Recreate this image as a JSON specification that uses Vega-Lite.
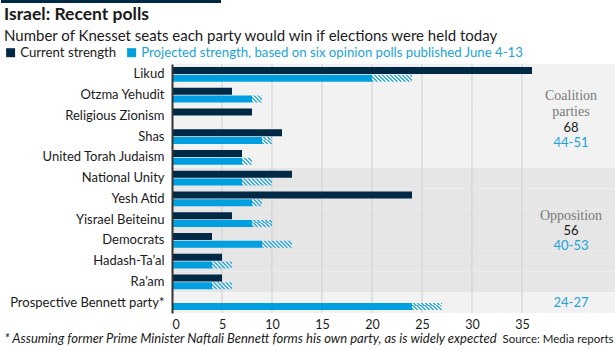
{
  "$schema": "https://vega.github.io/schema/vega-lite/v6.json",
  "padding": {"left": 0, "top": 0, "right": 0, "bottom": 0},
  "spacing": 3,
  "resolve": {"legend": {"color": "independent"}},
  "datasets": {
    "parties": [
      {"party": "Likud", "group": "Coalition", "current": 36, "proj_min": 20, "proj_max": 24},
      {"party": "Otzma Yehudit", "group": "Coalition", "current": 6, "proj_min": 8, "proj_max": 9},
      {"party": "Religious Zionism", "group": "Coalition", "current": 8, "proj_min": null, "proj_max": null},
      {"party": "Shas", "group": "Coalition", "current": 11, "proj_min": 9, "proj_max": 10},
      {"party": "United Torah Judaism", "group": "Coalition", "current": 7, "proj_min": 7, "proj_max": 8},
      {"party": "National Unity", "group": "Opposition", "current": 12, "proj_min": 7, "proj_max": 10},
      {"party": "Yesh Atid", "group": "Opposition", "current": 24, "proj_min": 8, "proj_max": 9},
      {"party": "Yisrael Beiteinu", "group": "Opposition", "current": 6, "proj_min": 8, "proj_max": 10},
      {"party": "Democrats", "group": "Opposition", "current": 4, "proj_min": 9, "proj_max": 12},
      {"party": "Hadash-Ta’al", "group": "Opposition", "current": 5, "proj_min": 4, "proj_max": 6},
      {"party": "Ra’am", "group": "Opposition", "current": 5, "proj_min": 4, "proj_max": 6},
      {"party": "Prospective Bennett party*", "group": "New", "current": null, "proj_min": 24, "proj_max": 27}
    ],
    "grid": [{"v": 5}, {"v": 10}, {"v": 15}, {"v": 20}, {"v": 25}, {"v": 30}, {"v": 35}],
    "notes": [
      {"party": "Otzma Yehudit", "t": "Coalition", "kind": "g1"},
      {"party": "Religious Zionism", "t": "parties", "kind": "g2"},
      {"party": "Yisrael Beiteinu", "t": "Opposition", "kind": "g2"},
      {"party": "Shas", "t": "68", "kind": "d"},
      {"party": "Democrats", "t": "56", "kind": "d"},
      {"party": "Shas", "t": "44-51", "kind": "b1"},
      {"party": "Democrats", "t": "40-53", "kind": "b1"},
      {"party": "Prospective Bennett party*", "t": "24-27", "kind": "b2"}
    ],
    "header": [{"a": 0}]
  },
  "vconcat": [
    {
      "width": 444,
      "height": 3,
      "data": {"name": "header"},
      "mark": {"type": "rect", "color": "#002945"},
      "encoding": {
        "x": {"datum": -17.1, "type": "quantitative", "axis": null, "scale": {"domain": [0, 44.4], "nice": false, "zero": false}},
        "x2": {"datum": 4.9}
      }
    },
    {
      "width": 444,
      "height": 249,
      "title": {
        "text": "Israel: Recent polls",
        "subtitle": "Number of Knesset seats each party would win if elections were held today",
        "anchor": "start",
        "frame": "group",
        "dx": -168,
        "font": "Lato",
        "fontSize": 17.5,
        "fontWeight": "bold",
        "color": "#1a1a1a",
        "subtitleFont": "Lato",
        "subtitleFontSize": 15,
        "subtitleColor": "#1a1a1a",
        "subtitlePadding": 5,
        "offset": 2.5
      },
      "layer": [
        {
          "data": {"name": "parties"},
          "mark": {"type": "rect"},
          "encoding": {
            "y": {
              "field": "party", "type": "nominal",
              "scale": {"domain": ["Likud", "Otzma Yehudit", "Religious Zionism", "Shas", "United Torah Judaism", "National Unity", "Yesh Atid", "Yisrael Beiteinu", "Democrats", "Hadash-Ta’al", "Ra’am", "Prospective Bennett party*"], "paddingInner": 0, "paddingOuter": 0},
              "axis": {
                "title": "* Assuming former Prime Minister Naftali Bennett forms his own party, as is widely expected",
                "titleAngle": 0, "titleAlign": "left", "titleBaseline": "alphabetic",
                "titleX": -168, "titleY": 278.5,
                "titleFont": "Lato", "titleFontStyle": "italic", "titleFontWeight": "normal", "titleFontSize": 13, "titleColor": "#1a1a1a",
                "labelFont": "Lato", "labelFontSize": 13, "labelColor": "#1a1a1a", "labelPadding": 8, "labelLimit": 220,
                "ticks": false, "grid": false, "domainColor": "#333333", "domainWidth": 2
              }
            },
            "x": {
              "datum": 0, "type": "quantitative",
              "scale": {"domain": [0, 44.4], "nice": false, "zero": true},
              "axis": {
                "values": [0, 5, 10, 15, 20, 25, 30, 35],
                "title": "Source: Media reports",
                "titleAlign": "right", "titleAnchor": "end", "titleBaseline": "alphabetic",
                "titleX": 441, "titleY": 29.5,
                "titleFont": "Lato", "titleFontWeight": "normal", "titleFontSize": 11.5, "titleColor": "#1a1a1a",
                "labelFont": "Lato", "labelFontSize": 12.5, "labelColor": "#1a1a1a", "labelPadding": 5,
                "ticks": false, "domain": false, "grid": false
              }
            },
            "x2": {"datum": 44.4},
            "fill": {"condition": {"test": "datum.group === 'Opposition'", "value": "#e6e6e6"}, "value": "#f2f2f2"}
          }
        },
        {
          "data": {"name": "grid"},
          "mark": {"type": "rule", "color": "#cfcfcf", "strokeWidth": 1},
          "encoding": {"x": {"field": "v", "type": "quantitative"}}
        },
        {
          "data": {"name": "parties"},
          "transform": [{"filter": "datum.current > 0"}],
          "mark": {"type": "bar"},
          "encoding": {
            "y": {"field": "party", "type": "nominal"},
            "yOffset": {"datum": "cur", "type": "nominal", "scale": {"domain": ["cur", "proj"], "paddingInner": 0.1, "paddingOuter": 0.39}},
            "x": {"field": "current", "type": "quantitative"},
            "color": {
              "datum": "Current strength", "type": "nominal",
              "scale": {"domain": ["Current strength", "Projected strength, based on six opinion polls published June 4-13"], "range": ["#002945", "#009fdf"]},
              "legend": {
                "orient": "none", "legendX": -168, "legendY": -18, "direction": "horizontal", "title": null,
                "symbolType": "square", "symbolSize": 81, "symbolStrokeWidth": 0, "symbolOpacity": 1,
                "labelFont": "Lato", "labelFontSize": 13.2, "labelOffset": 3, "columnPadding": 8, "labelLimit": 500,
                "encode": {"labels": {"update": {"fill": {"signal": "datum.label === 'Current strength' ? '#1a1a1a' : '#1ba3dd'"}}}}
              }
            }
          }
        },
        {
          "data": {"name": "parties"},
          "transform": [{"filter": "datum.proj_min > 0"}],
          "mark": {"type": "bar"},
          "encoding": {
            "y": {"field": "party", "type": "nominal"},
            "yOffset": {"datum": "proj", "type": "nominal"},
            "x": {"field": "proj_min", "type": "quantitative"},
            "color": {"datum": "Projected strength, based on six opinion polls published June 4-13", "type": "nominal"}
          }
        },
        {
          "data": {"name": "parties"},
          "transform": [{"filter": "datum.proj_min > 0 && datum.proj_max - datum.proj_min === 1"}],
          "mark": {"type": "bar", "stroke": null, "fill": {"gradient": "linear", "x1": 0, "y1": 1, "x2": 1.1409, "y2": 0.2013, "stops": [
            {"offset": 0, "color": "#38b0e4"}, {"offset": 0.1176, "color": "#38b0e4"}, {"offset": 0.1176, "color": "rgba(56,176,228,0)"}, {"offset": 0.2353, "color": "rgba(56,176,228,0)"},
            {"offset": 0.2353, "color": "#38b0e4"}, {"offset": 0.3529, "color": "#38b0e4"}, {"offset": 0.3529, "color": "rgba(56,176,228,0)"}, {"offset": 0.4706, "color": "rgba(56,176,228,0)"},
            {"offset": 0.4706, "color": "#38b0e4"}, {"offset": 0.5882, "color": "#38b0e4"}, {"offset": 0.5882, "color": "rgba(56,176,228,0)"}, {"offset": 0.7059, "color": "rgba(56,176,228,0)"},
            {"offset": 0.7059, "color": "#38b0e4"}, {"offset": 0.8235, "color": "#38b0e4"}, {"offset": 0.8235, "color": "rgba(56,176,228,0)"}, {"offset": 0.9412, "color": "rgba(56,176,228,0)"},
            {"offset": 0.9412, "color": "#38b0e4"}, {"offset": 1, "color": "#38b0e4"}
          ]}},
          "encoding": {
            "y": {"field": "party", "type": "nominal"},
            "yOffset": {"datum": "proj", "type": "nominal"},
            "x": {"field": "proj_min", "type": "quantitative"},
            "x2": {"field": "proj_max"}
          }
        },
        {
          "data": {"name": "parties"},
          "transform": [{"filter": "datum.proj_min > 0 && datum.proj_max - datum.proj_min === 2"}],
          "mark": {"type": "bar", "stroke": null, "fill": {"gradient": "linear", "x1": 0, "y1": 1, "x2": 1.2027, "y2": 0.5791, "stops": [
            {"offset": 0, "color": "#38b0e4"}, {"offset": 0.0741, "color": "#38b0e4"}, {"offset": 0.0741, "color": "rgba(56,176,228,0)"}, {"offset": 0.1481, "color": "rgba(56,176,228,0)"},
            {"offset": 0.1481, "color": "#38b0e4"}, {"offset": 0.2222, "color": "#38b0e4"}, {"offset": 0.2222, "color": "rgba(56,176,228,0)"}, {"offset": 0.2963, "color": "rgba(56,176,228,0)"},
            {"offset": 0.2963, "color": "#38b0e4"}, {"offset": 0.3704, "color": "#38b0e4"}, {"offset": 0.3704, "color": "rgba(56,176,228,0)"}, {"offset": 0.4444, "color": "rgba(56,176,228,0)"},
            {"offset": 0.4444, "color": "#38b0e4"}, {"offset": 0.5185, "color": "#38b0e4"}, {"offset": 0.5185, "color": "rgba(56,176,228,0)"}, {"offset": 0.5926, "color": "rgba(56,176,228,0)"},
            {"offset": 0.5926, "color": "#38b0e4"}, {"offset": 0.6667, "color": "#38b0e4"}, {"offset": 0.6667, "color": "rgba(56,176,228,0)"}, {"offset": 0.7407, "color": "rgba(56,176,228,0)"},
            {"offset": 0.7407, "color": "#38b0e4"}, {"offset": 0.8148, "color": "#38b0e4"}, {"offset": 0.8148, "color": "rgba(56,176,228,0)"}, {"offset": 0.8889, "color": "rgba(56,176,228,0)"},
            {"offset": 0.8889, "color": "#38b0e4"}, {"offset": 0.963, "color": "#38b0e4"}, {"offset": 0.963, "color": "rgba(56,176,228,0)"}, {"offset": 1, "color": "rgba(56,176,228,0)"}
          ]}},
          "encoding": {
            "y": {"field": "party", "type": "nominal"},
            "yOffset": {"datum": "proj", "type": "nominal"},
            "x": {"field": "proj_min", "type": "quantitative"},
            "x2": {"field": "proj_max"}
          }
        },
        {
          "data": {"name": "parties"},
          "transform": [{"filter": "datum.proj_min > 0 && datum.proj_max - datum.proj_min === 3"}],
          "mark": {"type": "bar", "stroke": null, "fill": {"gradient": "linear", "x1": 0, "y1": 1, "x2": 1.1697, "y2": 0.7271, "stops": [
            {"offset": 0, "color": "#38b0e4"}, {"offset": 0.0541, "color": "#38b0e4"}, {"offset": 0.0541, "color": "rgba(56,176,228,0)"}, {"offset": 0.1081, "color": "rgba(56,176,228,0)"},
            {"offset": 0.1081, "color": "#38b0e4"}, {"offset": 0.1622, "color": "#38b0e4"}, {"offset": 0.1622, "color": "rgba(56,176,228,0)"}, {"offset": 0.2162, "color": "rgba(56,176,228,0)"},
            {"offset": 0.2162, "color": "#38b0e4"}, {"offset": 0.2703, "color": "#38b0e4"}, {"offset": 0.2703, "color": "rgba(56,176,228,0)"}, {"offset": 0.3243, "color": "rgba(56,176,228,0)"},
            {"offset": 0.3243, "color": "#38b0e4"}, {"offset": 0.3784, "color": "#38b0e4"}, {"offset": 0.3784, "color": "rgba(56,176,228,0)"}, {"offset": 0.4324, "color": "rgba(56,176,228,0)"},
            {"offset": 0.4324, "color": "#38b0e4"}, {"offset": 0.4865, "color": "#38b0e4"}, {"offset": 0.4865, "color": "rgba(56,176,228,0)"}, {"offset": 0.5405, "color": "rgba(56,176,228,0)"},
            {"offset": 0.5405, "color": "#38b0e4"}, {"offset": 0.5946, "color": "#38b0e4"}, {"offset": 0.5946, "color": "rgba(56,176,228,0)"}, {"offset": 0.6486, "color": "rgba(56,176,228,0)"},
            {"offset": 0.6486, "color": "#38b0e4"}, {"offset": 0.7027, "color": "#38b0e4"}, {"offset": 0.7027, "color": "rgba(56,176,228,0)"}, {"offset": 0.7568, "color": "rgba(56,176,228,0)"},
            {"offset": 0.7568, "color": "#38b0e4"}, {"offset": 0.8108, "color": "#38b0e4"}, {"offset": 0.8108, "color": "rgba(56,176,228,0)"}, {"offset": 0.8649, "color": "rgba(56,176,228,0)"},
            {"offset": 0.8649, "color": "#38b0e4"}, {"offset": 0.9189, "color": "#38b0e4"}, {"offset": 0.9189, "color": "rgba(56,176,228,0)"}, {"offset": 0.973, "color": "rgba(56,176,228,0)"},
            {"offset": 0.973, "color": "#38b0e4"}, {"offset": 1, "color": "#38b0e4"}
          ]}},
          "encoding": {
            "y": {"field": "party", "type": "nominal"},
            "yOffset": {"datum": "proj", "type": "nominal"},
            "x": {"field": "proj_min", "type": "quantitative"},
            "x2": {"field": "proj_max"}
          }
        },
        {
          "data": {"name": "parties"},
          "transform": [{"filter": "datum.proj_min > 0 && datum.proj_max - datum.proj_min === 4"}],
          "mark": {"type": "bar", "stroke": null, "fill": {"gradient": "linear", "x1": 0, "y1": 1, "x2": 1.1401, "y2": 0.8005, "stops": [
            {"offset": 0, "color": "#38b0e4"}, {"offset": 0.0426, "color": "#38b0e4"}, {"offset": 0.0426, "color": "rgba(56,176,228,0)"}, {"offset": 0.0851, "color": "rgba(56,176,228,0)"},
            {"offset": 0.0851, "color": "#38b0e4"}, {"offset": 0.1277, "color": "#38b0e4"}, {"offset": 0.1277, "color": "rgba(56,176,228,0)"}, {"offset": 0.1702, "color": "rgba(56,176,228,0)"},
            {"offset": 0.1702, "color": "#38b0e4"}, {"offset": 0.2128, "color": "#38b0e4"}, {"offset": 0.2128, "color": "rgba(56,176,228,0)"}, {"offset": 0.2553, "color": "rgba(56,176,228,0)"},
            {"offset": 0.2553, "color": "#38b0e4"}, {"offset": 0.2979, "color": "#38b0e4"}, {"offset": 0.2979, "color": "rgba(56,176,228,0)"}, {"offset": 0.3404, "color": "rgba(56,176,228,0)"},
            {"offset": 0.3404, "color": "#38b0e4"}, {"offset": 0.383, "color": "#38b0e4"}, {"offset": 0.383, "color": "rgba(56,176,228,0)"}, {"offset": 0.4255, "color": "rgba(56,176,228,0)"},
            {"offset": 0.4255, "color": "#38b0e4"}, {"offset": 0.4681, "color": "#38b0e4"}, {"offset": 0.4681, "color": "rgba(56,176,228,0)"}, {"offset": 0.5106, "color": "rgba(56,176,228,0)"},
            {"offset": 0.5106, "color": "#38b0e4"}, {"offset": 0.5532, "color": "#38b0e4"}, {"offset": 0.5532, "color": "rgba(56,176,228,0)"}, {"offset": 0.5957, "color": "rgba(56,176,228,0)"},
            {"offset": 0.5957, "color": "#38b0e4"}, {"offset": 0.6383, "color": "#38b0e4"}, {"offset": 0.6383, "color": "rgba(56,176,228,0)"}, {"offset": 0.6809, "color": "rgba(56,176,228,0)"},
            {"offset": 0.6809, "color": "#38b0e4"}, {"offset": 0.7234, "color": "#38b0e4"}, {"offset": 0.7234, "color": "rgba(56,176,228,0)"}, {"offset": 0.766, "color": "rgba(56,176,228,0)"},
            {"offset": 0.766, "color": "#38b0e4"}, {"offset": 0.8085, "color": "#38b0e4"}, {"offset": 0.8085, "color": "rgba(56,176,228,0)"}, {"offset": 0.8511, "color": "rgba(56,176,228,0)"},
            {"offset": 0.8511, "color": "#38b0e4"}, {"offset": 0.8936, "color": "#38b0e4"}, {"offset": 0.8936, "color": "rgba(56,176,228,0)"}, {"offset": 0.9362, "color": "rgba(56,176,228,0)"},
            {"offset": 0.9362, "color": "#38b0e4"}, {"offset": 0.9787, "color": "#38b0e4"}, {"offset": 0.9787, "color": "rgba(56,176,228,0)"}, {"offset": 1, "color": "rgba(56,176,228,0)"}
          ]}},
          "encoding": {
            "y": {"field": "party", "type": "nominal"},
            "yOffset": {"datum": "proj", "type": "nominal"},
            "x": {"field": "proj_min", "type": "quantitative"},
            "x2": {"field": "proj_max"}
          }
        },
        {
          "data": {"name": "notes"},
          "transform": [{"filter": "datum.kind === 'g1'"}],
          "mark": {"type": "text", "font": "Liberation Serif", "fontSize": 14, "fill": "#7a7a7a", "baseline": "middle", "align": "center", "dy": 1},
          "encoding": {"y": {"field": "party", "type": "nominal"}, "x": {"datum": 39.9, "type": "quantitative"}, "text": {"field": "t"}}
        },
        {
          "data": {"name": "notes"},
          "transform": [{"filter": "datum.kind === 'g2'"}],
          "mark": {"type": "text", "font": "Liberation Serif", "fontSize": 14, "fill": "#7a7a7a", "baseline": "middle", "align": "center", "dy": -4},
          "encoding": {"y": {"field": "party", "type": "nominal"}, "x": {"datum": 39.9, "type": "quantitative"}, "text": {"field": "t"}}
        },
        {
          "data": {"name": "notes"},
          "transform": [{"filter": "datum.kind === 'd'"}],
          "mark": {"type": "text", "font": "Lato", "fontSize": 13, "fill": "#1a1a1a", "baseline": "middle", "align": "center", "dy": -9},
          "encoding": {"y": {"field": "party", "type": "nominal"}, "x": {"datum": 39.9, "type": "quantitative"}, "text": {"field": "t"}}
        },
        {
          "data": {"name": "notes"},
          "transform": [{"filter": "datum.kind === 'b1'"}],
          "mark": {"type": "text", "font": "Lato", "fontSize": 13, "fill": "#1ba3dd", "baseline": "middle", "align": "center", "dy": 6},
          "encoding": {"y": {"field": "party", "type": "nominal"}, "x": {"datum": 39.9, "type": "quantitative"}, "text": {"field": "t"}}
        },
        {
          "data": {"name": "notes"},
          "transform": [{"filter": "datum.kind === 'b2'"}],
          "mark": {"type": "text", "font": "Lato", "fontSize": 13, "fill": "#1ba3dd", "baseline": "middle", "align": "center", "dy": 0.5},
          "encoding": {"y": {"field": "party", "type": "nominal"}, "x": {"datum": 39.9, "type": "quantitative"}, "text": {"field": "t"}}
        }
      ]
    }
  ],
  "config": {
    "view": {"stroke": null},
    "font": "Lato",
    "background": "#ffffff"
  }
}
